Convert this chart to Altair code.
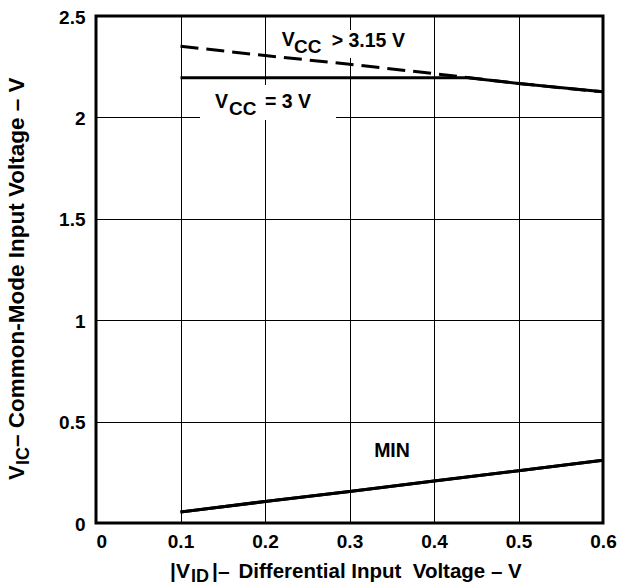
import altair as alt
import pandas as pd

# ---- data ----
x_vals = [0.1, 0.2, 0.3, 0.4, 0.5, 0.6]
vcc_hi = [2.351, 2.305, 2.262, 2.216, 2.167, 2.126]          # VCC > 3.15 V (dashed)
vcc_3_x = [0.1, 0.2, 0.3, 0.4, 0.44, 0.5, 0.6]
vcc_3 = [2.195, 2.195, 2.195, 2.195, 2.195, 2.167, 2.126]    # VCC = 3 V
min_vals = [0.054, 0.106, 0.155, 0.207, 0.258, 0.309]        # MIN
x_ticks = [0, 0.1, 0.2, 0.3, 0.4, 0.5, 0.6]
y_ticks = [0, 0.5, 1, 1.5, 2, 2.5]

F = "Liberation Sans"
W, H = 507, 507
xs = alt.Scale(domain=[0, 0.6], nice=False, zero=False)
ys = alt.Scale(domain=[0, 2.5], nice=False, zero=False)

ax_common = dict(
    title=None, grid=True, gridColor="black", gridWidth=1, gridOpacity=1,
    domain=False, ticks=False, labelFont=F, labelFontWeight="bold",
    labelFontSize=19, labelColor="black", format="~g",
)
x_axis = alt.Axis(values=x_ticks, labelPadding=9,
                  labelAlign={"condition": {"test": "datum.value == 0", "value": "left"}, "value": "center"},
                  **ax_common)
y_axis = alt.Axis(values=y_ticks, labelPadding=11, labelBaseline="middle", labelOffset=1, **ax_common)

df_hi = pd.DataFrame({"x": x_vals, "y": vcc_hi})
df_3 = pd.DataFrame({"x": vcc_3_x, "y": vcc_3})
df_min = pd.DataFrame({"x": x_vals, "y": min_vals})
one = pd.DataFrame({"a": [0]})


def line(df, dash=None):
    kw = dict(color="black", strokeWidth=3, strokeCap="butt")
    if dash:
        kw["strokeDash"] = dash
    return alt.Chart(df).mark_line(**kw).encode(
        x=alt.X("x:Q", scale=xs, axis=x_axis),
        y=alt.Y("y:Q", scale=ys, axis=y_axis),
    )

def mask(x1, x2, y1, y2):
    return alt.Chart(one).mark_rect(color="white").encode(
        x=alt.value(x1), x2=alt.value(x2), y=alt.value(y1), y2=alt.value(y2))

def txt(s, x, y, size=19, align="left", angle=0):
    kw = dict(text=s, font=F, fontWeight="bold", fontSize=size, align=align,
              baseline="alphabetic", color="black")
    if angle:
        kw["angle"] = angle
    return alt.Chart(one).mark_text(**kw).encode(x=alt.value(x), y=alt.value(y))

frame = alt.Chart(one).mark_rect(fill=None, stroke="black", strokeWidth=3).encode(
    x=alt.value(0), x2=alt.value(W), y=alt.value(0), y2=alt.value(H))

NB = "\u00a0"
layers = [
    line(df_min),
    mask(104, 240, 69, 104),     # behind "VCC = 3 V"
    mask(179, 324, 14, 42),      # behind "VCC > 3.15 V"
    line(df_hi, [18, 8]),
    line(df_3),
    line(df_min),
    frame,
    # in-plot labels
    txt("V", 185.7, 30, 19.5), txt("CC", 198, 37, 19), txt("> 3.15 V", 235.7, 30.7, 19.5),
    txt("V", 119, 92.3, 19.5), txt("CC", 133, 99, 19), txt("= 3 V", 169, 92.3, 19.5),
    txt("MIN", 296, 441, 19.5, "center"),
    # x title
    txt("|V", 74, 562, 21), txt("ID", 95, 566, 18), txt("|–", 116, 562, 21),
    txt("Differential Input" + NB + " Voltage – V", 142.5, 562, 20.5),
    # y title
    txt("V", -72, 464, 22, angle=270), txt("IC", -67, 449, 18, angle=270),
    txt(NB + "– Common-Mode Input Voltage – V", -72, 431, 22.5, angle=270),
]

chart = alt.layer(*layers).properties(
    width=W, height=H,
    autosize=alt.AutoSizeParams(type="none"),
    padding={"left": 96, "top": 16, "right": 21, "bottom": 63},
).configure(background="white").configure_view(stroke=None)

chart.save("out.html", embed_options={"renderer": "svg", "actions": False})
